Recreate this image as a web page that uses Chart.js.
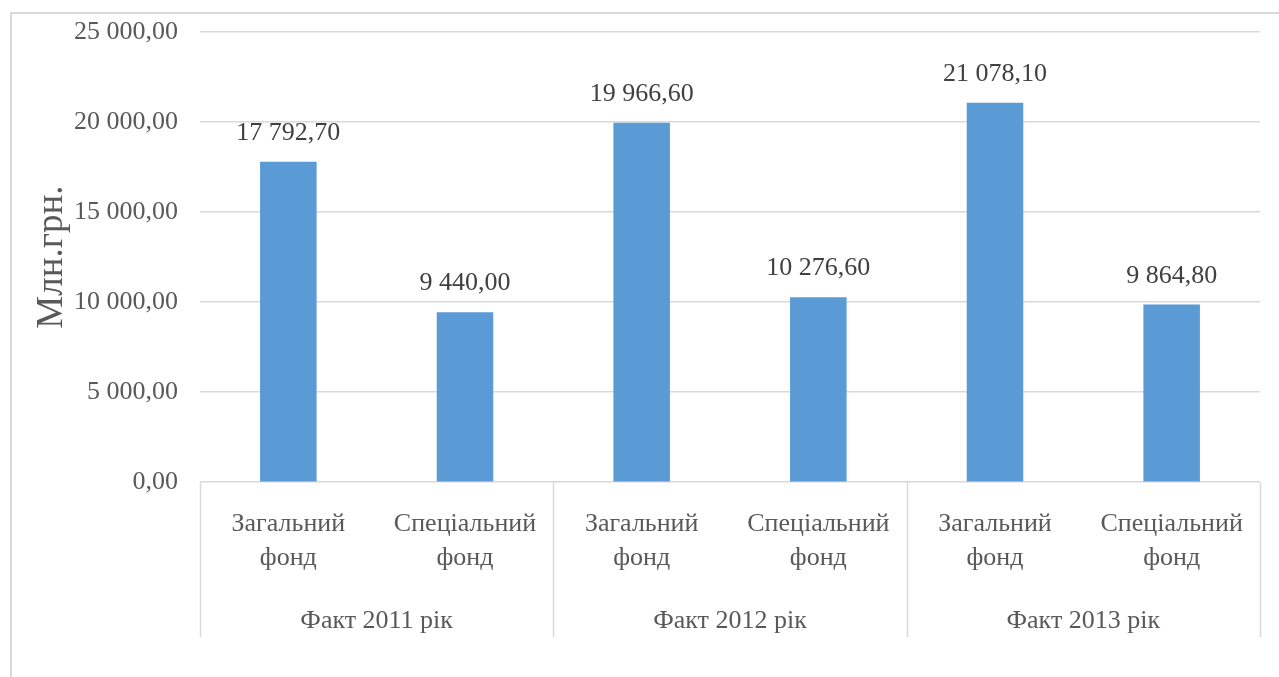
<!DOCTYPE html>
<html lang="uk">

<head>
    <meta charset="UTF-8" />
    <title>Фонди</title>
    <script src="https://cdn.jsdelivr.net/npm/chart.js"></script>
    <style>
        body {
            background-color: #fff;
            margin: 0;
            padding: 0;
        }

        #chart-box {
            position: absolute;
            left: 10px;
            top: 12px;
            width: 1269px;
            height: 665px;
            border-top: 2px solid #d9d9d9;
            border-left: 2px solid #d9d9d9;
            box-sizing: border-box;
        }

        #funds {
            display: block;
        }
    </style>
</head>

<body>
    <div id="chart-box">
        <canvas id="funds" width="1267" height="663"></canvas>
    </div>

    <script>
        // categories and values
        const categories = [
            ['Загальний', 'фонд'], ['Спеціальний', 'фонд'],
            ['Загальний', 'фонд'], ['Спеціальний', 'фонд'],
            ['Загальний', 'фонд'], ['Спеціальний', 'фонд']
        ];
        const groups = ['Факт 2011 рік', 'Факт 2012 рік', 'Факт 2013 рік'];
        const values = [17792.7, 9440.0, 19966.6, 10276.6, 21078.1, 9864.8];
        const yTicks = [0, 5000, 10000, 15000, 20000, 25000];

        const serif = "'Liberation Serif', 'Times New Roman', serif";
        const gridColor = '#d9d9d9';

        function fmt(v) {
            const parts = v.toFixed(2).split('.');
            const intPart = parts[0].replace(/\B(?=(\d{3})+(?!\d))/g, ' ');
            return intPart + ',' + parts[1];
        }

        // value labels above bars
        const barLabels = {
            id: 'barLabels',
            afterDatasetsDraw(chart) {
                const ctx = chart.ctx;
                const meta = chart.getDatasetMeta(0);
                ctx.save();
                ctx.font = '26px ' + serif;
                ctx.fillStyle = '#404040';
                ctx.textAlign = 'center';
                ctx.textBaseline = 'alphabetic';
                meta.data.forEach((bar, i) => {
                    ctx.fillText(fmt(values[i]), bar.x, bar.y - 22);
                });
                ctx.restore();
            }
        };

        // group separators under the axis
        const groupLines = {
            id: 'groupLines',
            afterDraw(chart) {
                const x = chart.scales.x;
                const x2 = chart.scales.x2;
                const ctx = chart.ctx;
                const edges = [x.left];
                for (let g = 1; g < groups.length; g++) {
                    edges.push((x.getPixelForValue(g * 2 - 1) + x.getPixelForValue(g * 2)) / 2);
                }
                edges.push(x.right);
                const bottom = x2.bottom - 6;
                ctx.save();
                ctx.strokeStyle = gridColor;
                ctx.lineWidth = 1.5;
                edges.forEach(px => {
                    ctx.beginPath();
                    ctx.moveTo(Math.round(px) + 0.5, chart.chartArea.bottom);
                    ctx.lineTo(Math.round(px) + 0.5, bottom);
                    ctx.stroke();
                });
                ctx.restore();
            }
        };

        new Chart(document.getElementById('funds'), {
            type: 'bar',
            data: {
                labels: categories,
                datasets: [{
                    data: values,
                    backgroundColor: '#5b9bd5',
                    categoryPercentage: 0.64,
                    barPercentage: 0.5
                }]
            },
            options: {
                responsive: false,
                animation: false,
                layout: { padding: { left: 16, right: 19, top: 0, bottom: 34 } },
                plugins: {
                    legend: { display: false },
                    tooltip: { enabled: false }
                },
                scales: {
                    x: {
                        offset: true,
                        grid: { display: false, drawTicks: false },
                        border: { display: false },
                        ticks: {
                            color: '#595959',
                            font: { family: serif, size: 26, lineHeight: 1.3 },
                            padding: 25,
                            maxRotation: 0,
                            autoSkip: false
                        }
                    },
                    x2: {
                        type: 'category',
                        labels: groups,
                        position: 'bottom',
                        offset: true,
                        grid: { display: false, drawTicks: false },
                        border: { display: false },
                        ticks: {
                            color: '#595959',
                            font: { family: serif, size: 26 },
                            padding: 6,
                            maxRotation: 0,
                            autoSkip: false
                        }
                    },
                    y: {
                        min: 0,
                        max: 25000,
                        afterBuildTicks(scale) {
                            scale.ticks = yTicks.map(v => ({ value: v }));
                        },
                        afterFit(scale) {
                            scale.width = 172;
                            scale.paddingTop = 18;
                            scale.paddingBottom = 0;
                        },
                        grid: { color: gridColor, lineWidth: 1.5, drawTicks: false },
                        border: { display: false },
                        ticks: {
                            color: '#595959',
                            font: { family: serif, size: 26 },
                            padding: 22,
                            callback: v => fmt(v)
                        },
                        title: {
                            display: true,
                            text: 'Млн.грн.',
                            color: '#595959',
                            font: { family: serif, size: 37 },
                            padding: { top: 2, bottom: 0 }
                        }
                    }
                }
            },
            plugins: [barLabels, groupLines]
        });
    </script>
</body>

</html>
